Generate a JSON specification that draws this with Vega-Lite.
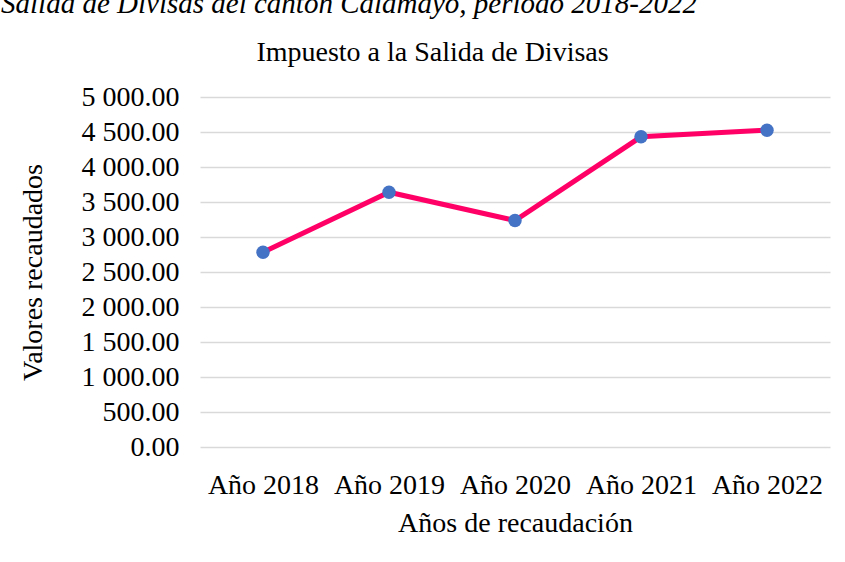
{
  "$schema": "https://vega.github.io/schema/vega-lite/v6.json",
  "width": 630,
  "height": 350,
  "autosize": "none",
  "padding": {"left": 200, "top": 97, "right": 15, "bottom": 115},
  "background": "white",
  "config": {
    "view": {"stroke": null},
    "font": "Liberation Serif"
  },
  "title": {
    "text": "Salida de Divisas del cantón Calamayo, período 2018-2022",
    "anchor": "end",
    "frame": "group",
    "dx": -133,
    "offset": -4,
    "baseline": "alphabetic",
    "font": "Liberation Serif, Times New Roman, serif",
    "fontStyle": "italic",
    "fontWeight": "normal",
    "fontSize": 29,
    "color": "black"
  },
  "data": {
    "values": [
      {"anio": "Año 2018", "valor": 2783},
      {"anio": "Año 2019", "valor": 3640},
      {"anio": "Año 2020", "valor": 3236},
      {"anio": "Año 2021", "valor": 4431},
      {"anio": "Año 2022", "valor": 4526}
    ]
  },
  "encoding": {
    "y": {
      "field": "valor",
      "type": "quantitative",
      "scale": {"domain": [0, 5000], "nice": false, "zero": true},
      "axis": {
        "values": [0, 500, 1000, 1500, 2000, 2500, 3000, 3500, 4000, 4500, 5000],
        "labelExpr": "replace(format(datum.value, ',.2f'), ',', ' ')",
        "domain": false,
        "ticks": false,
        "grid": true,
        "gridColor": "#d9d9d9",
        "gridWidth": 1.5,
        "labelFont": "Liberation Serif",
        "labelFontSize": 28,
        "labelColor": "black",
        "labelPadding": 21,
        "title": "Valores recaudados",
        "titleFont": "Liberation Serif",
        "titleFontSize": 28,
        "titleFontWeight": "normal",
        "titleColor": "black",
        "titleX": -167,
        "titleY": 175,
        "titleBaseline": "middle",
        "titleAngle": -90
      }
    }
  },
  "layer": [
    {
      "mark": {"type": "line", "color": "#FF0066", "strokeWidth": 5},
      "encoding": {
        "x": {
          "field": "anio",
          "type": "nominal",
          "sort": null,
          "scale": {"padding": 0.5},
          "axis": {
            "orient": "bottom",
            "labelAngle": 0,
            "domain": false,
            "ticks": false,
            "grid": false,
            "labelFont": "Liberation Serif",
            "labelFontSize": 28,
            "labelColor": "black",
            "labelPadding": 24,
            "title": "Años de recaudación",
            "titleFont": "Liberation Serif",
            "titleFontSize": 28,
            "titleFontWeight": "normal",
            "titleColor": "black",
            "titleY": 76,
            "titleBaseline": "middle"
          }
        }
      }
    },
    {
      "mark": {"type": "point", "filled": true, "color": "#4472C4", "size": 180, "opacity": 1},
      "encoding": {
        "x": {
          "field": "anio",
          "type": "nominal",
          "sort": null,
          "axis": {
            "orient": "top",
            "labels": false,
            "domain": false,
            "ticks": false,
            "grid": false,
            "title": "Impuesto a la Salida de Divisas",
            "titleFont": "Liberation Serif",
            "titleFontSize": 28,
            "titleFontWeight": "normal",
            "titleColor": "black",
            "titleX": 232,
            "titleY": -45,
            "titleBaseline": "middle"
          }
        }
      }
    }
  ],
  "resolve": {"axis": {"x": "independent"}}
}
